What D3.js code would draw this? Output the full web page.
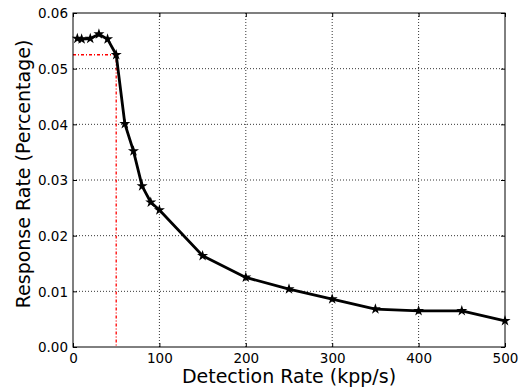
<!DOCTYPE html>
<html>
<head>
<meta charset="utf-8">
<script src="https://cdn.jsdelivr.net/npm/d3@7"></script>
<style>
  html, body { margin: 0; padding: 0; background: #fff; }
  svg { display: block; font-family: "DejaVu Sans", sans-serif; }
</style>
</head>
<body>
<svg id="chart" width="525" height="392"></svg>
<script>
// Data
const detectionRate = [5, 10, 20, 30, 40, 50, 60, 70, 80, 90, 100, 150, 200, 250, 300, 350, 400, 450, 500];
const responseRate = [0.0554, 0.0553, 0.0554, 0.0562, 0.0553, 0.0525, 0.0401, 0.0352, 0.0289, 0.0260, 0.0246,
  0.0164, 0.0125, 0.0104, 0.0086, 0.0068, 0.0065, 0.0065, 0.0047];
const xTicks = [0, 100, 200, 300, 400, 500];
const yTicks = [0.00, 0.01, 0.02, 0.03, 0.04, 0.05, 0.06];
const marker = { x: 50, y: 0.0525 };

const svg = d3.select("#chart");
const margin = { top: 13, right: 20, bottom: 45, left: 73 };
const width = 525 - margin.left - margin.right;
const height = 392 - margin.top - margin.bottom;

const g = svg.append("g").attr("transform", `translate(${margin.left},${margin.top})`);

const x = d3.scaleLinear().domain([0, 500]).range([0, width]);
const y = d3.scaleLinear().domain([0, 0.06]).range([height, 0]);

// grid
g.append("g")
  .selectAll("line.vg")
  .data(xTicks.slice(1, -1))
  .join("line")
  .attr("x1", d => x(d)).attr("x2", d => x(d))
  .attr("y1", 0).attr("y2", height)
  .attr("stroke", "#000").attr("stroke-width", 0.8)
  .attr("stroke-dasharray", "1,2");

g.append("g")
  .selectAll("line.hg")
  .data(yTicks.slice(1, -1))
  .join("line")
  .attr("y1", d => y(d)).attr("y2", d => y(d))
  .attr("x1", 0).attr("x2", width)
  .attr("stroke", "#000").attr("stroke-width", 0.8)
  .attr("stroke-dasharray", "1,2");

// axes, ticks pointing inward like matplotlib classic
const styleAxis = sel => {
  sel.select(".domain").remove();
  sel.selectAll("text").attr("font-size", "13.5px").attr("fill", "#000").attr("font-family", "DejaVu Sans");
  sel.selectAll("line").attr("stroke", "#000");
};

g.append("g")
  .attr("transform", `translate(0,${height})`)
  .call(d3.axisBottom(x).tickValues(xTicks).tickFormat(d3.format("d")).tickSizeInner(-4).tickPadding(6))
  .call(styleAxis);

g.append("g")
  .call(d3.axisLeft(y).tickValues(yTicks).tickFormat(d3.format(".2f")).tickSizeInner(-4).tickPadding(5))
  .call(styleAxis)
  .selectAll("text").attr("dy", "0.35em");

g.append("g")
  .call(d3.axisTop(x).tickValues(xTicks).tickSizeInner(-4).tickFormat(""))
  .call(styleAxis);

g.append("g")
  .attr("transform", `translate(${width},0)`)
  .call(d3.axisRight(y).tickValues(yTicks).tickSizeInner(-4).tickFormat(""))
  .call(styleAxis);

// red dash-dot marker lines
g.append("path")
  .attr("d", d3.line()([[x(0), y(marker.y)], [x(marker.x), y(marker.y)], [x(marker.x), y(0)]]))
  .attr("fill", "none")
  .attr("stroke", "#ff0000")
  .attr("stroke-width", 1.3)
  .attr("stroke-dasharray", "3,2,1,2");

// main line
const points = detectionRate.map((d, i) => [d, responseRate[i]]);

g.append("path")
  .datum(points)
  .attr("fill", "none")
  .attr("stroke", "#000")
  .attr("stroke-width", 2.8)
  .attr("stroke-linejoin", "round")
  .attr("d", d3.line().x(d => x(d[0])).y(d => y(d[1])));

g.append("g")
  .selectAll("path")
  .data(points)
  .join("path")
  .attr("transform", d => `translate(${x(d[0])},${y(d[1])})`)
  .attr("d", d3.symbol(d3.symbolStar, 38))
  .attr("fill", "#000");

// frame
g.append("rect")
  .attr("width", width).attr("height", height)
  .attr("fill", "none").attr("stroke", "#000").attr("stroke-width", 1);

// axis labels
svg.append("text")
  .attr("x", margin.left + width / 2)
  .attr("y", 383)
  .attr("text-anchor", "middle")
  .attr("font-size", "19px")
  .text("Detection Rate (kpp/s)");

svg.append("text")
  .attr("transform", `translate(30,174) rotate(-90)`)
  .attr("text-anchor", "middle")
  .attr("font-size", "19px")
  .text("Response Rate (Percentage)");
</script>
</body>
</html>
